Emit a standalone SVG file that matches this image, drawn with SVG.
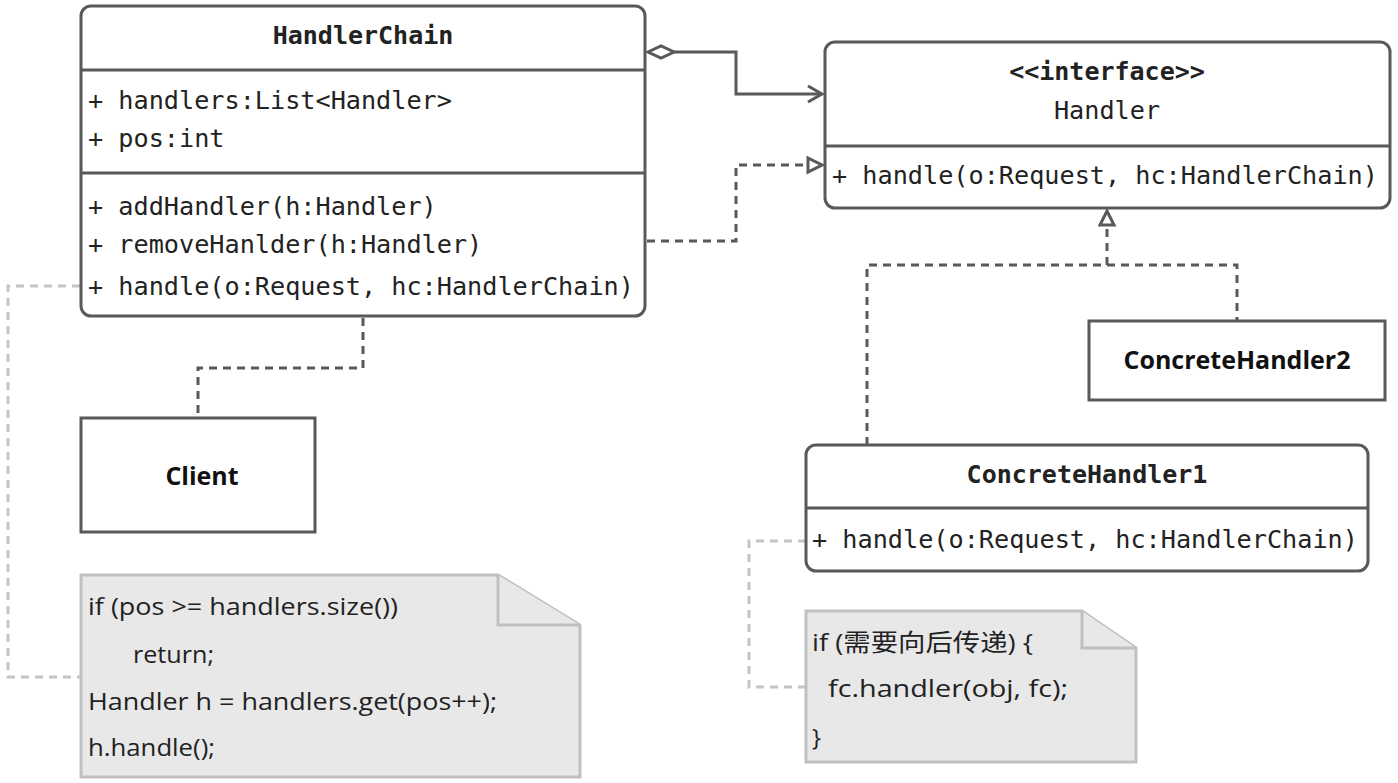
<svg xmlns="http://www.w3.org/2000/svg" width="1398" height="783" viewBox="0 0 1398 783">
<style>
.box{fill:#fff;stroke:#595959;stroke-width:3}
.ln{stroke:#595959;stroke-width:3;fill:none}
.mono{font-family:"DejaVu Sans Mono","Liberation Mono",monospace;font-size:25.2px;fill:#222}
.monob{font-family:"DejaVu Sans Mono","Liberation Mono",monospace;font-size:25px;font-weight:bold;fill:#222}
.sansb{font-family:"Open Sans","Noto Sans",sans-serif;font-size:25px;font-weight:bold;fill:#111}
.note{fill:#e8e8e8;stroke:#c0c0c0;stroke-width:3}
.ntx{font-family:"Open Sans","Noto Sans","Noto Sans CJK SC",sans-serif;font-size:24px;fill:#222}
.dash{stroke:#595959;stroke-width:3;fill:none;stroke-dasharray:8 6}
.ldash{stroke:#c4c4c4;stroke-width:3;fill:none;stroke-dasharray:8 6}
</style>
<defs>
<marker id="open" markerWidth="20" markerHeight="20" refX="17" refY="9" orient="auto" markerUnits="userSpaceOnUse"><path d="M3,1 L17,9 L3,17" fill="none" stroke="#595959" stroke-width="3"/></marker>
<marker id="tri" markerWidth="20" markerHeight="20" refX="17" refY="9" orient="auto" markerUnits="userSpaceOnUse"><path d="M3,2 L17,9 L3,16 Z" fill="#fff" stroke="#595959" stroke-width="3"/></marker>
<marker id="dia" markerWidth="34" markerHeight="20" refX="2" refY="9" orient="auto" markerUnits="userSpaceOnUse"><path d="M2,9 L15,3 L28,9 L15,15 Z" fill="#fff" stroke="#595959" stroke-width="3"/></marker>
</defs>
<g id="connectors">
<path class="ln" d="M648,52 L736,52 L736,94 L822,94" marker-start="url(#dia)" marker-end="url(#open)"/>
<path class="dash" d="M647,241 L736,241 L736,165 L822,165" marker-end="url(#tri)"/>
<path class="dash" d="M363,318 L363,368 L198,368 L198,418"/>
<path class="dash" d="M867,445 L867,265 L1237,265 L1237,321"/>
<path class="dash" d="M1107,265 L1107,211" marker-end="url(#tri)"/>
<path class="ldash" d="M80,286 L8,286 L8,677 L81,677"/>
<path class="ldash" d="M806,541 L749,541 L749,687 L806,687"/>
</g>
<g id="HandlerChain">
<rect class="box" x="81" y="6" width="564" height="310" rx="10"/>
<line class="ln" x1="81" y1="70" x2="645" y2="70"/>
<line class="ln" x1="81" y1="173" x2="645" y2="173"/>
<text class="monob" x="363" y="44" text-anchor="middle">HandlerChain</text>
<text class="mono" x="88" y="109">+ handlers:List&lt;Handler&gt;</text>
<text class="mono" x="88" y="147">+ pos:int</text>
<text class="mono" x="88" y="215">+ addHandler(h:Handler)</text>
<text class="mono" x="88" y="253">+ removeHanlder(h:Handler)</text>
<text class="mono" x="88" y="295">+ handle(o:Request, hc:HandlerChain)</text>
</g>
<g id="Handler">
<rect class="box" x="825" y="42" width="565" height="166" rx="10"/>
<line class="ln" x1="825" y1="146" x2="1390" y2="146"/>
<text class="monob" x="1107" y="80" text-anchor="middle">&lt;&lt;interface&gt;&gt;</text>
<text class="mono" x="1107" y="119" text-anchor="middle">Handler</text>
<text class="mono" x="832" y="184">+ handle(o:Request, hc:HandlerChain)</text>
</g>
<g id="ConcreteHandler2">
<rect class="box" x="1089" y="321" width="296" height="79"/>
<text class="sansb" x="1237" y="369" text-anchor="middle">ConcreteHandler2</text>
</g>
<g id="Client">
<rect class="box" x="81" y="418" width="234" height="114"/>
<text class="sansb" x="202" y="485" text-anchor="middle">Client</text>
</g>
<g id="ConcreteHandler1">
<rect class="box" x="806" y="445" width="562" height="126" rx="10"/>
<line class="ln" x1="806" y1="508" x2="1368" y2="508"/>
<text class="monob" x="1087" y="483" text-anchor="middle">ConcreteHandler1</text>
<text class="mono" x="812" y="548">+ handle(o:Request, hc:HandlerChain)</text>
</g>
<g id="note1">
<path class="note" d="M81,575 L498,575 L580,625 L580,777 L81,777 Z"/>
<path class="note" d="M498,575 L498,625 L580,625"/>
<text class="ntx" x="88" y="615" textLength="310" lengthAdjust="spacingAndGlyphs">if (pos &gt;= handlers.size())</text>
<text class="ntx" x="133" y="663" textLength="81" lengthAdjust="spacingAndGlyphs">return;</text>
<text class="ntx" x="88" y="710" textLength="409" lengthAdjust="spacingAndGlyphs">Handler h = handlers.get(pos++);</text>
<text class="ntx" x="88" y="756" textLength="127" lengthAdjust="spacingAndGlyphs">h.handle();</text>
</g>
<g id="note2">
<path class="note" d="M806,611 L1082,611 L1136,648 L1136,762 L806,762 Z"/>
<path class="note" d="M1082,611 L1082,648 L1136,648"/>
<text class="ntx" x="812" y="651" textLength="221" lengthAdjust="spacingAndGlyphs">if (需要向后传递) {</text>
<text class="ntx" x="828" y="697" textLength="240" lengthAdjust="spacingAndGlyphs">fc.handler(obj, fc);</text>
<text class="ntx" x="812" y="746">}</text>
</g>
</svg>
